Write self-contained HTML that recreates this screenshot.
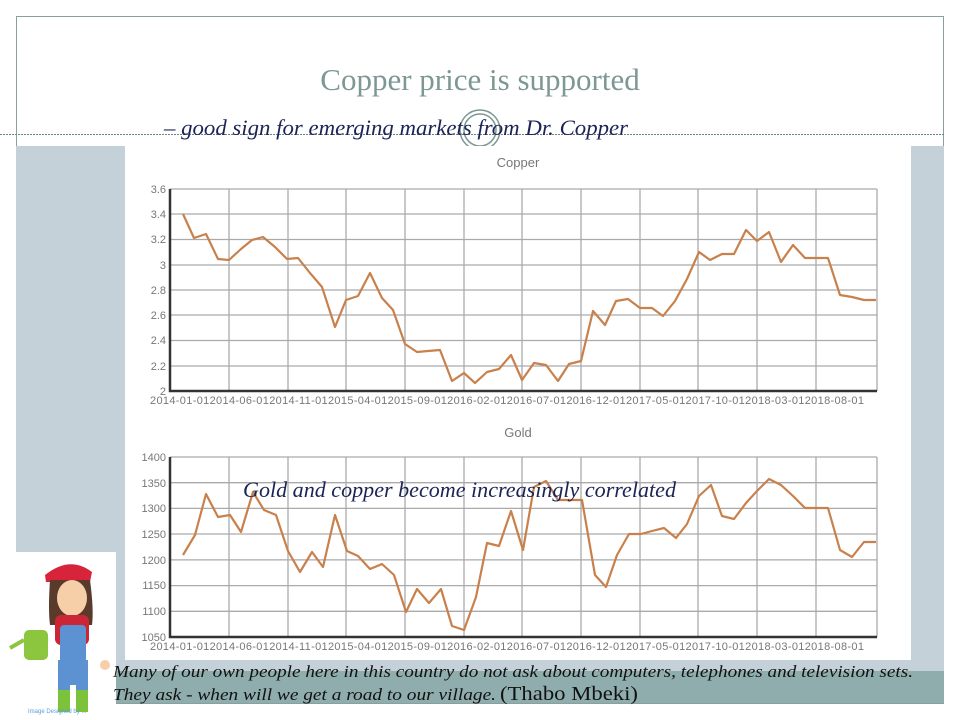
<!DOCTYPE html>
<html><head><meta charset="utf-8"><style>
html,body{margin:0;padding:0;background:#fff;}
body{width:960px;height:720px;position:relative;overflow:hidden;font-family:"Liberation Sans",sans-serif;}
</style></head><body>
<svg width="960" height="720" viewBox="0 0 960 720" style="position:absolute;left:0;top:0">
<rect x="16.5" y="16.5" width="927" height="687" fill="#fff" stroke="#8aa09e"/>
<rect x="16" y="146" width="928" height="525" fill="#c5d1d8"/>
<rect x="16" y="671" width="928" height="32" fill="#8fadad"/>
<line x1="0" y1="134.5" x2="944" y2="134.5" stroke="#6f8585" stroke-dasharray="2,1"/>
<text x="480" y="90" text-anchor="middle" font-family="Liberation Serif,serif" font-size="31" fill="#7d9794">Copper price is supported</text>
<circle cx="480" cy="130" r="20" fill="none" stroke="#7d9794" stroke-width="1.5"/>
<circle cx="480" cy="130" r="16" fill="none" stroke="#7d9794" stroke-width="1.5"/>
<rect x="125" y="146" width="786" height="514" fill="#fff"/>
<text x="164" y="135" font-family="Liberation Serif,serif" font-style="italic" font-size="22" fill="#1c2455" textLength="464" lengthAdjust="spacingAndGlyphs">– good sign for emerging markets from Dr. Copper</text>
<text x="518" y="167" text-anchor="middle" font-size="13" fill="#777">Copper</text>
<g stroke="#aaa" stroke-width="1.3">
<line x1="170" y1="189" x2="877" y2="189"/><line x1="170" y1="214" x2="877" y2="214"/><line x1="170" y1="239.5" x2="877" y2="239.5"/><line x1="170" y1="265" x2="877" y2="265"/><line x1="170" y1="290" x2="877" y2="290"/><line x1="170" y1="315" x2="877" y2="315"/><line x1="170" y1="340.5" x2="877" y2="340.5"/><line x1="170" y1="366" x2="877" y2="366"/>
<line x1="170" y1="457" x2="877" y2="457"/><line x1="170" y1="482.7" x2="877" y2="482.7"/><line x1="170" y1="508.4" x2="877" y2="508.4"/><line x1="170" y1="534" x2="877" y2="534"/><line x1="170" y1="559.9" x2="877" y2="559.9"/><line x1="170" y1="585.6" x2="877" y2="585.6"/><line x1="170" y1="611.3" x2="877" y2="611.3"/>
</g>
<g stroke="#aaa" stroke-width="1.3">
<path d="M229 189V391M288 189V391M346 189V391M405 189V391M464 189V391M522 189V391M581 189V391M640 189V391M698 189V391M757 189V391M816 189V391M877 189V391"/>
<path d="M229 457V637M288 457V637M346 457V637M405 457V637M464 457V637M522 457V637M581 457V637M640 457V637M698 457V637M757 457V637M816 457V637M877 457V637"/>
</g>
<g stroke="#333" stroke-width="2.5" fill="none">
<path d="M170 189V391H877"/><path d="M170 457V637H877"/>
</g>
<g font-size="11" fill="#777" text-anchor="end">
<text x="166" y="193">3.6</text><text x="166" y="218">3.4</text><text x="166" y="243">3.2</text><text x="166" y="269">3</text><text x="166" y="294">2.8</text><text x="166" y="319">2.6</text><text x="166" y="344">2.4</text><text x="166" y="370">2.2</text><text x="166" y="395">2</text>
<text x="166" y="461">1400</text><text x="166" y="487">1350</text><text x="166" y="512">1300</text><text x="166" y="538">1250</text><text x="166" y="564">1200</text><text x="166" y="589">1150</text><text x="166" y="615">1100</text><text x="166" y="641">1050</text>
</g>
<g font-size="11" fill="#777">
<text y="404" textLength="714" x="150">2014-01-012014-06-012014-11-012015-04-012015-09-012016-02-012016-07-012016-12-012017-05-012017-10-012018-03-012018-08-01</text>
<text y="650" textLength="714" x="150">2014-01-012014-06-012014-11-012015-04-012015-09-012016-02-012016-07-012016-12-012017-05-012017-10-012018-03-012018-08-01</text>
</g>
<text x="518" y="437" text-anchor="middle" font-size="13" fill="#777">Gold</text>
<polyline fill="none" stroke="#c8814c" stroke-width="2.2" stroke-linejoin="round" points="183,214 194,238 206,234 218,259 229,260 241,249 252,240 263,237 275,247 287,259 298,258 310,273 322,287 335,327 346,300 358,296 370,273 382,298 393,310 405,344 417,352 428,351 440,350 452,381 464,373 475,383 487,372 499,369 511,355 522,380 534,363 546,365 558,381 569,364 581,361 593,311 605,325 616,301 628,299 640,308 652,308 663,316 675,301 687,279 699,252 710,260 722,254 734,254 746,230 757,241 769,232 781,262 793,245 805,258 816,258 828,258 840,295 852,297 864,300 876,300"/>
<polyline fill="none" stroke="#c8814c" stroke-width="2.2" stroke-linejoin="round" points="183,555 195,535 206,494 218,517 230,515 241,532 253,492 264,510 276,515 288,551 300,572 312,552 323,567 335,515 347,551 358,556 370,569 382,564 394,575 406,612 417,589 429,603 441,589 452,626 464,630 476,597 487,543 499,546 511,511 523,550 534,487 546,481 558,500 570,500 582,500 595,575 606,587 617,555 629,534 641,534 652,531 664,528 676,538 687,524 699,496 711,485 722,516 734,519 746,503 757,491 769,479 781,485 793,496 805,508 816,508 828,508 840,550 852,557 864,542 876,542"/>
<text x="243" y="497" font-family="Liberation Serif,serif" font-style="italic" font-size="22" fill="#1c2455" textLength="433" lengthAdjust="spacingAndGlyphs">Gold and copper become increasingly correlated</text>
<rect x="16" y="552" width="100" height="168" fill="#fff"/>
<path d="M45 575 Q70 555 92 572 L90 582 L46 582Z" fill="#d8243a"/>
<path d="M50 580 Q48 610 50 625 L92 625 Q94 610 90 580Z" fill="#5a3a2a"/>
<ellipse cx="72" cy="598" rx="15" ry="18" fill="#f6cfa8"/>
<rect x="55" y="615" width="34" height="30" rx="6" fill="#cc2535"/>
<rect x="60" y="625" width="26" height="60" rx="4" fill="#5d92d2"/>
<rect x="58" y="660" width="12" height="30" fill="#5d92d2"/><rect x="76" y="660" width="12" height="30" fill="#5d92d2"/>
<rect x="58" y="690" width="12" height="22" fill="#7cc23a"/><rect x="76" y="690" width="12" height="22" fill="#7cc23a"/>
<rect x="24" y="630" width="24" height="30" rx="5" fill="#8cc63f"/>
<path d="M24 640 L10 648" stroke="#8cc63f" stroke-width="4"/>
<circle cx="105" cy="665" r="5" fill="#f6cfa8"/>
<text x="28" y="713" font-size="6" fill="#5aa0d8">Image Designed by ...</text>
<g font-family="Liberation Serif,serif" font-style="italic" fill="#111">
<text x="113" y="677" font-size="17" textLength="800" lengthAdjust="spacingAndGlyphs">Many of our own people here in this country do not ask about computers, telephones and television sets.</text>
<text x="113" y="700" font-size="17" textLength="383" lengthAdjust="spacingAndGlyphs">They ask - when will we get a road to our village.</text>
<text x="500" y="700" font-size="20" font-style="normal" textLength="138" lengthAdjust="spacingAndGlyphs">(Thabo Mbeki)</text>
</g>
</svg>
</body></html>
